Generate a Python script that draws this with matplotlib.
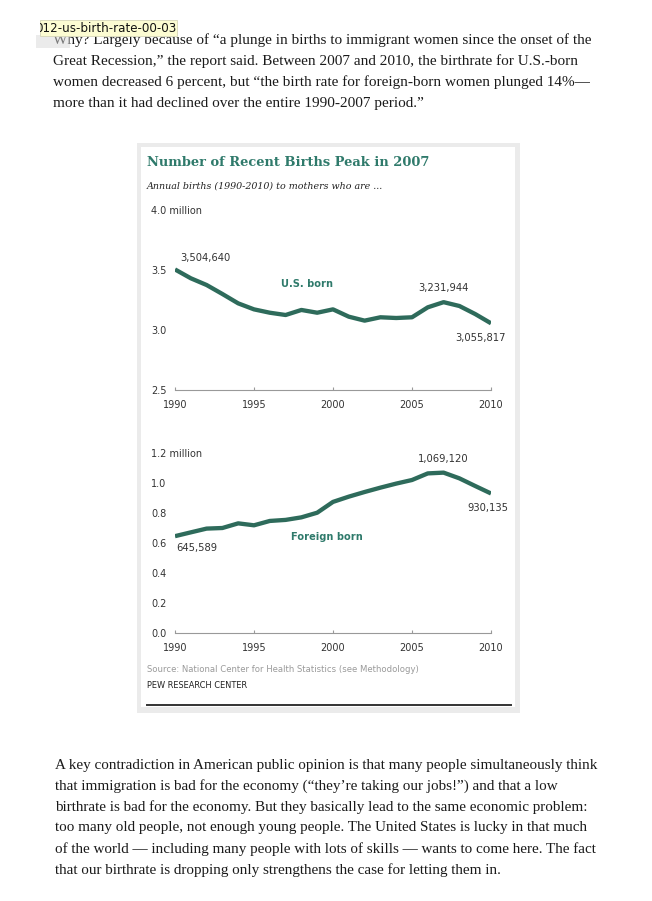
import numpy as np
import matplotlib.pyplot as plt
from matplotlib.patches import Rectangle

W, H = 652, 901

# births in millions (labelled years use the printed values)
years = list(range(1990, 2011))
us_born = [3.504640, 3.431, 3.375, 3.300, 3.222, 3.172, 3.144, 3.125, 3.167, 3.144,
           3.172, 3.111, 3.078, 3.106, 3.100, 3.106, 3.189, 3.231944, 3.200, 3.133, 3.055817]
foreign_born = [0.645589, 0.671, 0.696, 0.700, 0.731, 0.718, 0.747, 0.754, 0.771, 0.802,
                0.874, 0.909, 0.940, 0.969, 0.996, 1.020, 1.064, 1.069120, 1.031, 0.980, 0.930135]

us_ticks = [2.5, 3.0, 3.5, 4.0]
us_tick_labels = ['2.5', '3.0', '3.5', '4.0 million']
fb_ticks = [0.0, 0.2, 0.4, 0.6, 0.8, 1.0, 1.2]
fb_tick_labels = ['0.0', '0.2', '0.4', '0.6', '0.8', '1.0', '1.2 million']
x_ticks = [1990, 1995, 2000, 2005, 2010]

intro_lines = [
    "Why? Largely because of \u201ca plunge in births to immigrant women since the onset of the",
    "Great Recession,\u201d the report said. Between 2007 and 2010, the birthrate for U.S.-born",
    "women decreased 6 percent, but \u201cthe birth rate for foreign-born women plunged 14%\u2014",
    "more than it had declined over the entire 1990-2007 period.\u201d",
]
outro_lines = [
    "A key contradiction in American public opinion is that many people simultaneously think",
    "that immigration is bad for the economy (\u201cthey\u2019re taking our jobs!\u201d) and that a low",
    "birthrate is bad for the economy. But they basically lead to the same economic problem:",
    "too many old people, not enough young people. The United States is lucky in that much",
    "of the world \u2014 including many people with lots of skills \u2014 wants to come here. The fact",
    "that our birthrate is dropping only strengthens the case for letting them in.",
]

line_color = '#2e6b5b'
title_color = '#2f7a6b'
tick_color = '#333333'

fig = plt.figure(figsize=(W / 100, H / 100), dpi=100)
fig.patch.set_facecolor('white')


def fx(x):
    return x / W


def fy(y):
    return 1 - y / H


def fit_width(texts, target, ref=0):
    # scale font so texts[ref] spans target pixels
    r = fig.canvas.get_renderer()
    w = texts[ref].get_window_extent(r).width
    size = texts[ref].get_fontsize() * target / w
    for t in texts:
        t.set_fontsize(size)


# body text around the chart
body_kw = dict(family='Liberation Serif', color='#1a1a1a', ha='left', va='center', fontsize=10)
intro = [fig.text(fx(53), fy(40 + 21 * i), s, **body_kw) for i, s in enumerate(intro_lines)]
outro = [fig.text(fx(55), fy(765 + 21 * i), s, **body_kw) for i, s in enumerate(outro_lines)]
fit_width(intro, 537)
fit_width(outro, 543)

# chart frame
fig.patches.append(Rectangle((fx(137), fy(713)), fx(520) - fx(137), fy(143) - fy(713),
                             transform=fig.transFigure, facecolor='#ebebeb', edgecolor='none', zorder=-2))
fig.patches.append(Rectangle((fx(141), fy(707)), fx(515) - fx(141), fy(147) - fy(707),
                             transform=fig.transFigure, facecolor='white', edgecolor='none', zorder=-1))
fig.lines.append(plt.Line2D([fx(147), fx(511)], [fy(704.5), fy(704.5)], transform=fig.transFigure,
                            color='#333333', lw=1.4))

title = fig.text(fx(147), fy(162), 'Number of Recent Births Peak in 2007', family='DejaVu Serif',
                 weight='bold', color=title_color, ha='left', va='center', fontsize=10)
sub = fig.text(fx(147), fy(186), 'Annual births (1990-2010) to mothers who are ...', family='DejaVu Serif',
               style='italic', color='#222222', ha='left', va='center', fontsize=7)
src = fig.text(fx(147), fy(669), 'Source: National Center for Health Statistics (see Methodology)',
               family='DejaVu Sans', color='#9a9a9a', ha='left', va='center', fontsize=6)
pew = fig.text(fx(147), fy(686), 'PEW RESEARCH CENTER', family='DejaVu Sans', color='#222222',
               ha='left', va='center', fontsize=6)
fit_width([title], 284)
fit_width([sub], 236)
fit_width([src], 271)
fit_width([pew], 102)


def style_axes(ax, ticks, labels):
    for s in ['top', 'right', 'left']:
        ax.spines[s].set_visible(False)
    ax.spines['bottom'].set_color('#999999')
    ax.spines['bottom'].set_linewidth(0.8)
    ax.set_facecolor('none')
    ax.set_xlim(1990, 2010)
    ax.set_xticks(x_ticks)
    ax.set_yticks(ticks, labels)
    ax.tick_params(axis='x', direction='in', length=2.5, width=0.8, color='#999999',
                   labelsize=7, labelcolor=tick_color, pad=7.5)
    ax.tick_params(axis='y', length=0, labelsize=7, labelcolor=tick_color, pad=17.3)
    for lab in ax.get_yticklabels():
        lab.set_horizontalalignment('left')


ann_kw = dict(textcoords='offset pixels', fontsize=7.2, color=tick_color, family='DejaVu Sans', va='center')

# top panel: U.S. born
ax1 = fig.add_axes([fx(175), fy(390), fx(491) - fx(175), fy(210) - fy(390)])
ax1.plot(years, us_born, color=line_color, lw=3.1, solid_capstyle='butt', solid_joinstyle='round')
ax1.set_ylim(2.5, 4.0)
style_axes(ax1, us_ticks, us_tick_labels)
ax1.annotate(f'{us_born[0] * 1e6:,.0f}', (years[0], us_born[0]), xytext=(5, 11), ha='left', **ann_kw)
ax1.annotate(f'{us_born[17] * 1e6:,.0f}', (years[17], us_born[17]), xytext=(0, 14), ha='center', **ann_kw)
ax1.annotate(f'{us_born[-1] * 1e6:,.0f}', (years[-1], us_born[-1]), xytext=(-10, -15), ha='center', **ann_kw)
ax1.text(1998.35, 3.38, 'U.S. born', color=title_color, weight='bold', fontsize=7.1,
         ha='center', va='center', family='DejaVu Sans')

# bottom panel: foreign born
ax2 = fig.add_axes([fx(175), fy(633), fx(491) - fx(175), fy(453) - fy(633)])
ax2.plot(years, foreign_born, color=line_color, lw=3.1, solid_capstyle='butt', solid_joinstyle='round')
ax2.set_ylim(0.0, 1.2)
style_axes(ax2, fb_ticks, fb_tick_labels)
ax2.annotate(f'{foreign_born[0] * 1e6:,.0f}', (years[0], foreign_born[0]), xytext=(1, -12), ha='left', **ann_kw)
ax2.annotate(f'{foreign_born[17] * 1e6:,.0f}', (years[17], foreign_born[17]), xytext=(0, 14), ha='center', **ann_kw)
ax2.annotate(f'{foreign_born[-1] * 1e6:,.0f}', (years[-1], foreign_born[-1]), xytext=(-3.5, -15), ha='center', **ann_kw)
ax2.text(1999.62, 0.64, 'Foreign born', color=title_color, weight='bold', fontsize=7.1,
         ha='center', va='center', family='DejaVu Sans')

# file-name tooltip in the top-left corner (it covers part of the first line, as in the screenshot)
fig.patches.append(Rectangle((fx(36), fy(48)), fx(70) - fx(36), fy(35) - fy(48),
                             transform=fig.transFigure, facecolor='#d8d8d8', alpha=0.5,
                             edgecolor='none', zorder=5))
tag = Rectangle((fx(40), fy(35.5)), fx(177) - fx(40), fy(20) - fy(35.5), transform=fig.transFigure,
                facecolor='#fcfcd2', edgecolor='#d6d6b8', lw=0.6, zorder=6)
fig.patches.append(tag)
tag_txt = fig.text(fx(35), fy(28.5), '012-us-birth-rate-00-03', family='DejaVu Sans', color='#111111',
                   ha='left', va='center', fontsize=8, zorder=7)
fit_width([tag_txt], 140)
tag_txt.set_clip_path(tag)

fig.savefig('out.png', dpi=100)
